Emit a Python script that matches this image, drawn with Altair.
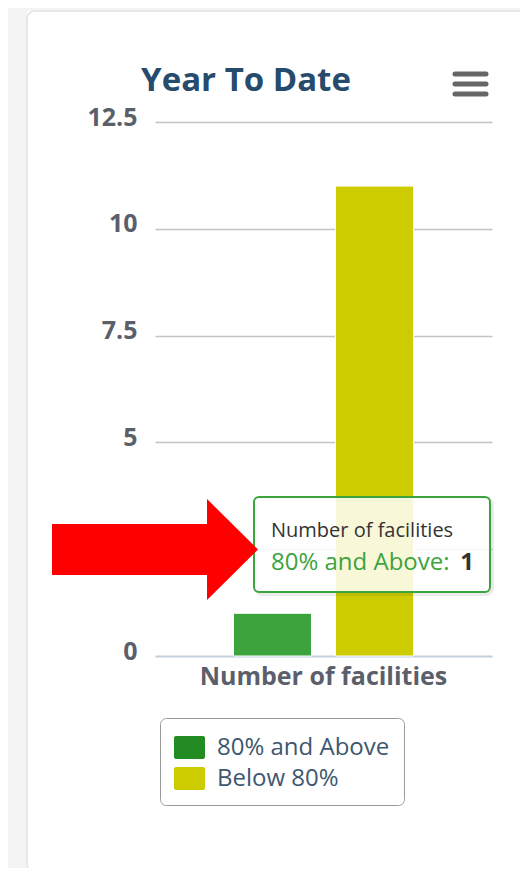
import altair as alt
import pandas as pd

# ---- data ----
categories = ["Number of facilities"]
series = ["80% and Above", "Below 80%"]
values = [1, 11]
y_ticks = [0, 2.5, 5, 7.5, 10, 12.5]
title_text = "Year To Date"

legend_colors = ["#228b22", "#cccc00"]
bar_colors = ["#3da33d", "#cccc00"]   # green bar shown in its hovered (brightened) state

FONT = "Open Sans"
PW, PH = 337, 534  # plot area

df = pd.DataFrame({
    "category": [categories[0]] * len(series),
    "series": series,
    "value": values,
})
one = pd.DataFrame({"k": [0]})

x_enc = alt.X("category:N", sort=categories,
              scale=alt.Scale(paddingInner=0, paddingOuter=0.326),
              axis=alt.Axis(title=None, domain=True, domainColor="#c0d0e0", domainWidth=1.5,
                            ticks=False, tickSize=0, grid=False, labelAngle=0,
                            labelFont=FONT, labelFontWeight="bold", labelFontSize=25,
                            labelColor="#5b5f6b", labelBaseline="alphabetic",
                            labelPadding=28, labelLimit=400))
xo_enc = alt.XOffset("series:N", sort=series,
                     scale=alt.Scale(paddingInner=0.235, paddingOuter=0.1176))
y_enc = alt.Y("value:Q", scale=alt.Scale(domain=[0, 12.5], nice=False, zero=True),
              axis=alt.Axis(title=None, values=y_ticks,
                            labelExpr="datum.value % 1 == 0 ? format(datum.value, 'd') : format(datum.value, '.1f')",
                            domain=False, ticks=False, tickSize=0, grid=True,
                            gridColor="#c4c4c4", gridWidth=1.5, labelFont=FONT,
                            labelFontWeight="bold", labelFontSize=25, labelColor="#5b5f6b",
                            labelPadding=18, labelOffset=-5))

# gray page strips outside the card and the card outline
strip_left = alt.Chart(one).mark_rect(fill="#f4f4f4").encode(
    x=alt.value(-147), x2=alt.value(-128), y=alt.value(-114), y2=alt.value(746))
strip_top = alt.Chart(one).mark_rect(fill="#f4f4f4").encode(
    x=alt.value(-147), x2=alt.value(400), y=alt.value(-114), y2=alt.value(-111))
card = alt.Chart(one).mark_rect(fill="white", fillOpacity=0, stroke="#e2e2e2",
                                strokeWidth=1.5, cornerRadius=8).encode(
    x=alt.value(-128), x2=alt.value(450), y=alt.value(-111), y2=alt.value(750))

# legend carrier (invisible bars, legend colours)
legend_layer = alt.Chart(df).mark_bar(opacity=0).encode(
    x=x_enc, xOffset=xo_enc, y=y_enc,
    color=alt.Color("series:N", sort=series,
                    scale=alt.Scale(domain=series, range=legend_colors),
                    legend=alt.Legend(
                        title=None, orient="none", legendX=5, legendY=596,
                        symbolType="M-0.88,-0.74H0.88A0.12,0.12 0 0 1 1,-0.62V0.62A0.12,0.12 0 0 1 0.88,0.74H-0.88A0.12,0.12 0 0 1 -1,0.62V-0.62A0.12,0.12 0 0 1 -0.88,-0.74Z",
                        symbolSize=961, symbolStrokeWidth=0, symbolOpacity=1,
                        labelFont=FONT, labelFontSize=24, labelColor="#3e576f",
                        labelOffset=12, labelLimit=400, rowPadding=3, padding=14,
                        strokeColor="#999999", cornerRadius=6, fillColor="white")))

bars = alt.Chart(df).mark_bar(stroke="white", strokeWidth=1).encode(
    x=x_enc, xOffset=xo_enc, y=y_enc,
    color=alt.Color("series:N", sort=series,
                    scale=alt.Scale(domain=series, range=bar_colors), legend=None))

# tooltip
tip_shadow = alt.Chart(one).mark_rect(fillOpacity=0, stroke="black", strokeOpacity=0.08,
                                      strokeWidth=4, cornerRadius=6).encode(
    x=alt.value(101), x2=alt.value(337), y=alt.value(377), y2=alt.value(472))
tip_box = alt.Chart(one).mark_rect(fill="white", fillOpacity=0.85, stroke="#3da33d",
                                   strokeWidth=2, cornerRadius=5).encode(
    x=alt.value(99), x2=alt.value(335), y=alt.value(375), y2=alt.value(470))
tip_head = alt.Chart(one).mark_text(text=categories[0], font=FONT, fontSize=20,
                                    color="#333333", align="left", baseline="alphabetic").encode(
    x=alt.value(116), y=alt.value(415))
tip_name = alt.Chart(one).mark_text(text=series[0] + ":", font=FONT, fontSize=24,
                                    color="#3da33d", align="left", baseline="alphabetic").encode(
    x=alt.value(116), y=alt.value(448))
tip_val = alt.Chart(one).mark_text(text=str(values[0]), font=FONT, fontSize=24,
                                   fontWeight="bold", color="#333333", align="right",
                                   baseline="alphabetic").encode(
    x=alt.value(319), y=alt.value(448))

# red arrow annotation
arrow_path = "M-1,-0.248L0.505,-0.248L0.505,-0.49L1,0L0.505,0.49L0.505,0.248L-1,0.248Z"
arrow = alt.Chart(one).mark_point(shape=arrow_path, filled=True, fill="#ff0000",
                                  opacity=1, size=42436, strokeWidth=0).encode(
    x=alt.value(0), y=alt.value(427.5))

# title and menu icon
title = alt.Chart(one).mark_text(text=title_text, font=FONT, fontSize=33, fontWeight="bold",
                                 color="#274b6d", align="center", baseline="alphabetic").encode(
    x=alt.value(91), y=alt.value(-31))
menu = [alt.Chart(one).mark_rule(color="#666666", strokeWidth=5, strokeCap="round").encode(
    x=alt.value(300), x2=alt.value(331), y=alt.value(yy)) for yy in (-48, -38, -28)]

chart = alt.layer(
    strip_left, strip_top, card, legend_layer, bars, tip_shadow, tip_box,
    tip_head, tip_name, tip_val, arrow, title, *menu
).resolve_scale(color="independent").properties(
    width=PW, height=PH,
    autosize=alt.AutoSizeParams(type="none"),
    padding={"left": 147, "top": 114, "right": 28, "bottom": 212},
).configure_view(stroke=None)

chart.save("out.html", embed_options={"renderer": "svg", "actions": False})
